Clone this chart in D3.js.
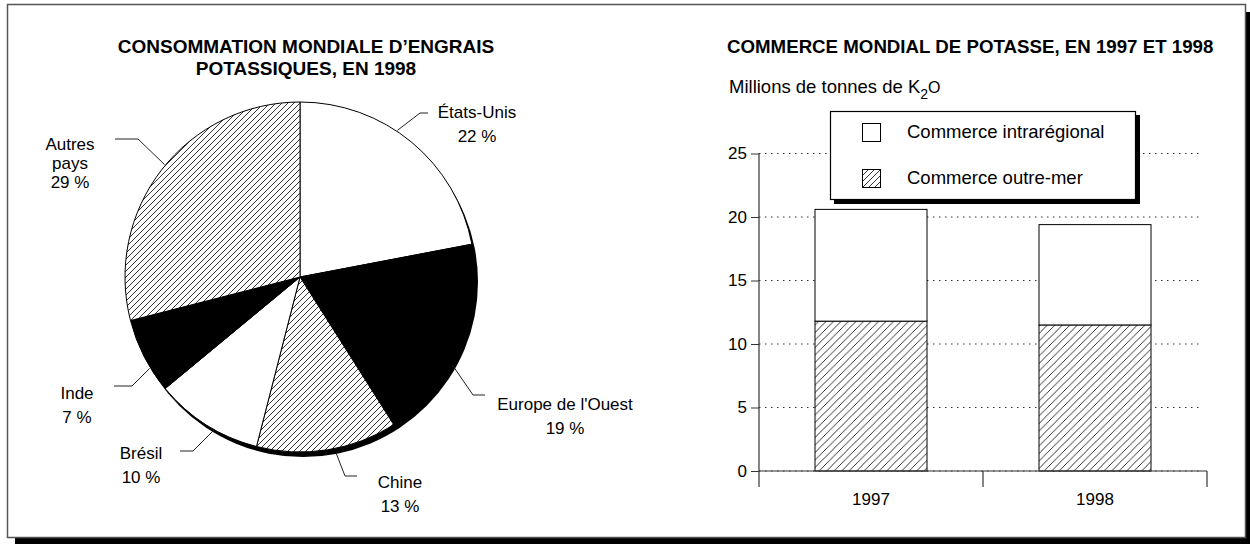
<!DOCTYPE html>
<html>
<head>
<meta charset="utf-8">
<script src="https://cdn.jsdelivr.net/npm/d3@7"></script>
<style>
  body { margin: 0; background: #fff; }
  svg { display: block; font-family: "Liberation Sans", Arial, sans-serif; }
</style>
</head>
<body>
<script>
var width = 1250;
var height = 544;

// pie data
var pieCategories = ["États-Unis", "Europe de l'Ouest", "Chine", "Brésil", "Inde", "Autres pays"];
var pieValues = [22, 19, 13, 10, 7, 29];
var pieLabelLines = [["États-Unis"], ["Europe de l'Ouest"], ["Chine"], ["Brésil"], ["Inde"], ["Autres", "pays"]];

// bar data
var barYears = ["1997", "1998"];
var overseas = [11.8, 11.5];
var intraregional = [8.8, 7.9];
var yTicks = [0, 5, 10, 15, 20, 25];
var seriesNames = ["Commerce intrarégional", "Commerce outre-mer"];

// pie look
var pieFills = ["white", "black", "url(#hatchPie)", "white", "black", "url(#hatchPie)"];
var labelLayout = [
  {a: 33.6, elbow: [420, 113], end: [428, 113], text: [477, 118]},
  {a: 120, elbow: [473, 395], end: [485, 395], text: [565, 410]},
  {a: 168.4, elbow: [345, 476], end: [357, 476], text: [400, 488]},
  {a: 209.4, elbow: [193, 451], end: [180, 451], text: [141, 459]},
  {a: 238.7, elbow: [132, 386], end: [114, 386], text: [77, 399]},
  {a: 309.7, elbow: [138, 139], end: [115, 139], text: [70, 150]}
];

var svg = d3.select('body').append('svg')
  .attr('width', width)
  .attr('height', height);

var defs = svg.append('defs');
function hatch(id, s) {
  var p = defs.append('pattern')
    .attr('id', id)
    .attr('patternUnits', 'userSpaceOnUse')
    .attr('width', s).attr('height', s);
  p.append('rect').attr('width', s).attr('height', s).attr('fill', 'white');
  p.append('path')
    .attr('d', 'M0,' + s + ' L' + s + ',0 M' + (-s/4) + ',' + (s/4) + ' L' + (s/4) + ',' + (-s/4) +
               ' M' + (s*3/4) + ',' + (s*5/4) + ' L' + (s*5/4) + ',' + (s*3/4))
    .attr('stroke', 'black').attr('stroke-width', 0.8);
}
hatch('hatchPie', 6);
hatch('hatchBar', 7.5);

// frame + shadow
svg.append('rect')
  .attr('x', 15).attr('y', 12).attr('width', 1238).attr('height', 533)
  .attr('fill', 'black');
svg.append('rect')
  .attr('x', 7.5).attr('y', 4.5).attr('width', 1238).attr('height', 533)
  .attr('fill', 'white').attr('stroke', '#555').attr('stroke-width', 1.5);

// ---------- left: pie ----------
var cx = 300, cy = 277, radius = 175;

svg.append('text')
  .attr('x', 306).attr('y', 53)
  .attr('text-anchor', 'middle').attr('font-weight', 'bold').attr('font-size', 19)
  .text('CONSOMMATION MONDIALE D’ENGRAIS');
svg.append('text')
  .attr('x', 306).attr('y', 75)
  .attr('text-anchor', 'middle').attr('font-weight', 'bold').attr('font-size', 19)
  .text('POTASSIQUES, EN 1998');

var pieG = svg.append('g').attr('transform', 'translate(' + cx + ',' + cy + ')');

// shadow under the pie
pieG.append('circle')
  .attr('cx', 3).attr('cy', 5).attr('r', radius)
  .attr('fill', 'black');

var pie = d3.pie().sort(null).value(function(d){ return d; });
var arc = d3.arc().innerRadius(0).outerRadius(radius);

pieG.selectAll('path.slice').data(pie(pieValues))
  .enter().append('path')
    .attr('class', 'slice')
    .attr('d', arc)
    .attr('fill', function(d, i){ return pieFills[i]; })
    .attr('stroke', 'black')
    .attr('stroke-width', 1);

// leader lines + labels
var leaders = svg.append('g');
labelLayout.forEach(function(l, i){
  var rad = l.a * Math.PI / 180;
  var r0 = radius + (i == 2 ? 5 : 1);
  var sx = cx + r0 * Math.sin(rad), sy = cy - r0 * Math.cos(rad);
  leaders.append('polyline')
    .attr('points', [[sx, sy], l.elbow, l.end].map(function(p){ return p.join(','); }).join(' '))
    .attr('fill', 'none').attr('stroke', '#222').attr('stroke-width', 1);

  var lines = pieLabelLines[i].concat([pieValues[i] + ' %']);
  var t = svg.append('text')
    .attr('text-anchor', 'middle').attr('font-size', 17);
  lines.forEach(function(s, k){
    t.append('tspan')
      .attr('x', l.text[0])
      .attr('y', l.text[1] + k * (lines.length > 2 ? 19 : 23.5))
      .text(s);
  });
});

// ---------- right: bars ----------
var x0 = 759, x1 = 1207;
var x = d3.scaleBand().domain(barYears).range([x0, x1]).padding(0);
var y = d3.scaleLinear().domain([0, 25]).range([471, 153.5]);
var barW = x.bandwidth() * 0.5;

svg.append('text')
  .attr('x', 727).attr('y', 53)
  .attr('font-weight', 'bold').attr('font-size', 18.7)
  .text('COMMERCE MONDIAL DE POTASSE, EN 1997 ET 1998');

var unit = svg.append('text')
  .attr('x', 729).attr('y', 93).attr('font-size', 18.5)
  .text('Millions de tonnes de K');
unit.append('tspan').attr('dy', 6).attr('font-size', 14).text('2');
unit.append('tspan').attr('dy', -6).attr('font-size', 16).text('O');

// gridlines
svg.append('g').selectAll('line').data(yTicks)
  .enter().append('line')
    .attr('x1', x0).attr('x2', 1202)
    .attr('y1', function(d){ return y(d); })
    .attr('y2', function(d){ return y(d); })
    .attr('stroke', '#333').attr('stroke-width', 1)
    .attr('stroke-dasharray', '1.5,4.5');

// y axis
var yAxis = d3.axisLeft(y).tickValues(yTicks).tickSize(8).tickPadding(4);
var yg = svg.append('g').attr('transform', 'translate(' + x0 + ',0)').call(yAxis);
yg.select('.domain').remove();
yg.selectAll('line').attr('stroke', '#333');
yg.selectAll('text').attr('font-size', 17).attr('font-family', '"Liberation Sans", Arial, sans-serif').attr('fill', 'black');
svg.append('line')
  .attr('x1', x0).attr('x2', x0).attr('y1', y(25)).attr('y2', 487)
  .attr('stroke', '#333').attr('stroke-width', 1.2);

// bars
var stacked = barYears.map(function(yr, i){
  return {year: yr, over: overseas[i], intra: intraregional[i]};
});
var bars = svg.append('g');
bars.selectAll('rect.over').data(stacked)
  .enter().append('rect')
    .attr('class', 'over')
    .attr('x', function(d){ return x(d.year) + (x.bandwidth() - barW) / 2; })
    .attr('y', function(d){ return y(d.over); })
    .attr('width', barW)
    .attr('height', function(d){ return y(0) - y(d.over); })
    .attr('fill', 'url(#hatchBar)').attr('stroke', 'black').attr('stroke-width', 1);
bars.selectAll('rect.intra').data(stacked)
  .enter().append('rect')
    .attr('class', 'intra')
    .attr('x', function(d){ return x(d.year) + (x.bandwidth() - barW) / 2; })
    .attr('y', function(d){ return y(d.over + d.intra); })
    .attr('width', barW)
    .attr('height', function(d){ return y(d.over) - y(d.over + d.intra); })
    .attr('fill', 'white').attr('stroke', 'black').attr('stroke-width', 1);

// x axis
svg.append('line')
  .attr('x1', x0).attr('x2', x1).attr('y1', y(0)).attr('y2', y(0))
  .attr('stroke', '#333').attr('stroke-width', 1.2);
svg.append('g').selectAll('line').data(barYears.slice(1).concat(['end']))
  .enter().append('line')
    .attr('x1', function(d){ return d == 'end' ? x1 : x(d); })
    .attr('x2', function(d){ return d == 'end' ? x1 : x(d); })
    .attr('y1', y(0)).attr('y2', 487)
    .attr('stroke', '#333').attr('stroke-width', 1.2);
svg.append('g').selectAll('text').data(barYears)
  .enter().append('text')
    .attr('x', function(d){ return x(d) + x.bandwidth() / 2; })
    .attr('y', 505)
    .attr('text-anchor', 'middle').attr('font-size', 17)
    .text(function(d){ return d; });

// legend
var lg = svg.append('g');
lg.append('rect').attr('x', 834).attr('y', 115).attr('width', 306).attr('height', 89).attr('fill', 'black');
lg.append('rect').attr('x', 830.5).attr('y', 111.5).attr('width', 305).attr('height', 88)
  .attr('fill', 'white').attr('stroke', 'black').attr('stroke-width', 1.2);
var legFills = ['white', 'url(#hatchPie)'];
seriesNames.forEach(function(s, i){
  lg.append('rect')
    .attr('x', 862.5).attr('y', 123.5 + i * 46).attr('width', 18).attr('height', 18)
    .attr('fill', legFills[i]).attr('stroke', 'black').attr('stroke-width', 1);
  lg.append('text')
    .attr('x', 907).attr('y', 138 + i * 45.5).attr('font-size', 18.5)
    .text(s);
});
</script>
</body>
</html>
